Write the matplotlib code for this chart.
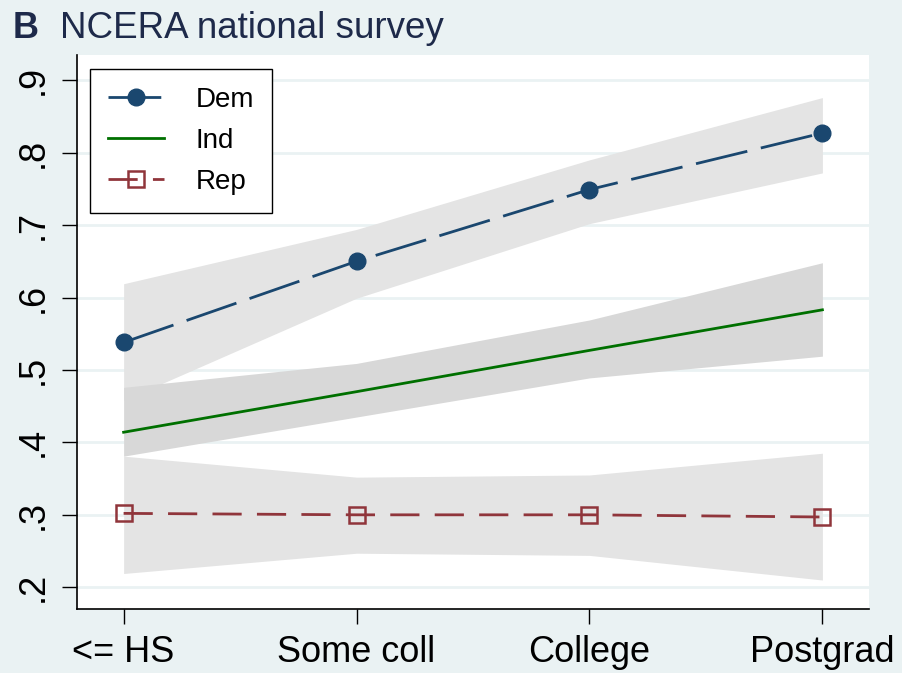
import numpy as np
import matplotlib
matplotlib.use('Agg')
import matplotlib.pyplot as plt

plt.rcParams['font.family'] = ['Liberation Sans', 'DejaVu Sans']

categories = ['<= HS', 'Some coll', 'College', 'Postgrad']
yticks = [0.2, 0.3, 0.4, 0.5, 0.6, 0.7, 0.8, 0.9]
ytick_labels = ['.2', '.3', '.4', '.5', '.6', '.7', '.8', '.9']

dem = [0.538, 0.650, 0.749, 0.827]
dem_lo = [0.458, 0.599, 0.702, 0.772]
dem_hi = [0.619, 0.694, 0.790, 0.876]

ind = [0.414, 0.470, 0.527, 0.583]
ind_lo = [0.381, 0.435, 0.489, 0.519]
ind_hi = [0.476, 0.509, 0.569, 0.648]

rep = [0.302, 0.300, 0.300, 0.297]
rep_lo = [0.219, 0.247, 0.244, 0.210]
rep_hi = [0.381, 0.352, 0.355, 0.385]

bg = '#eaf2f3'
x = np.arange(len(categories))

fig = plt.figure(figsize=(9.02, 6.73), dpi=100)
fig.patch.set_facecolor(bg)
ax = fig.add_axes([0.0854, 0.0951, 0.8780, 0.8229])
ax.set_facecolor('white')

# confidence bands
ax.fill_between(x, dem_lo, dem_hi, color='#e4e4e4', lw=0, zorder=1)
ax.fill_between(x, rep_lo, rep_hi, color='#e4e4e4', lw=0, zorder=1)
ax.fill_between(x, ind_lo, ind_hi, color='#d8d8d8', lw=0, zorder=2)

ax.plot(x, dem, color='#1a476f', lw=2, dashes=(19, 5), marker='o', ms=12,
        label='Dem', zorder=4)
ax.plot(x, ind, color='#007000', lw=2, label='Ind', zorder=4)
ax.plot(x, rep, color='#90353b', lw=2, dashes=(10.5, 5.5), marker='s', ms=11,
        mfc='none', mew=1.8, label='Rep', zorder=4)

ax.set_xlim(-0.2, 3.2)
ax.set_ylim(0.17, 0.9345)
ax.set_yticks(yticks)
ax.set_yticklabels(ytick_labels, rotation=90, va='center')
ax.set_xticks(x)
ax.set_xticklabels(categories)
ax.tick_params(axis='both', labelsize=26, length=11, width=1, direction='out',
               colors='black')
ax.tick_params(axis='y', pad=8)
ax.tick_params(axis='x', pad=8)
ax.grid(axis='y', color=bg, lw=2, zorder=0)
ax.set_axisbelow(True)
for s in ['top', 'right']:
    ax.spines[s].set_visible(False)
for s in ['left', 'bottom']:
    ax.spines[s].set_linewidth(1.2)

leg = ax.legend(loc='upper left', bbox_to_anchor=(0.0164, 0.975), fontsize=20,
                handlelength=2.0, handletextpad=1.15, borderpad=0.65,
                labelspacing=0.54, borderaxespad=0, fancybox=False,
                framealpha=1, edgecolor='black')
leg.get_frame().set_linewidth(1)

fig.text(0.014, 0.944, 'B', fontsize=26, fontweight='bold', color='#1e2a4a')
fig.text(0.066, 0.944, 'NCERA national survey', fontsize=26.5, color='#1e2a4a')

fig.savefig('out.png', dpi=100, facecolor=bg)
